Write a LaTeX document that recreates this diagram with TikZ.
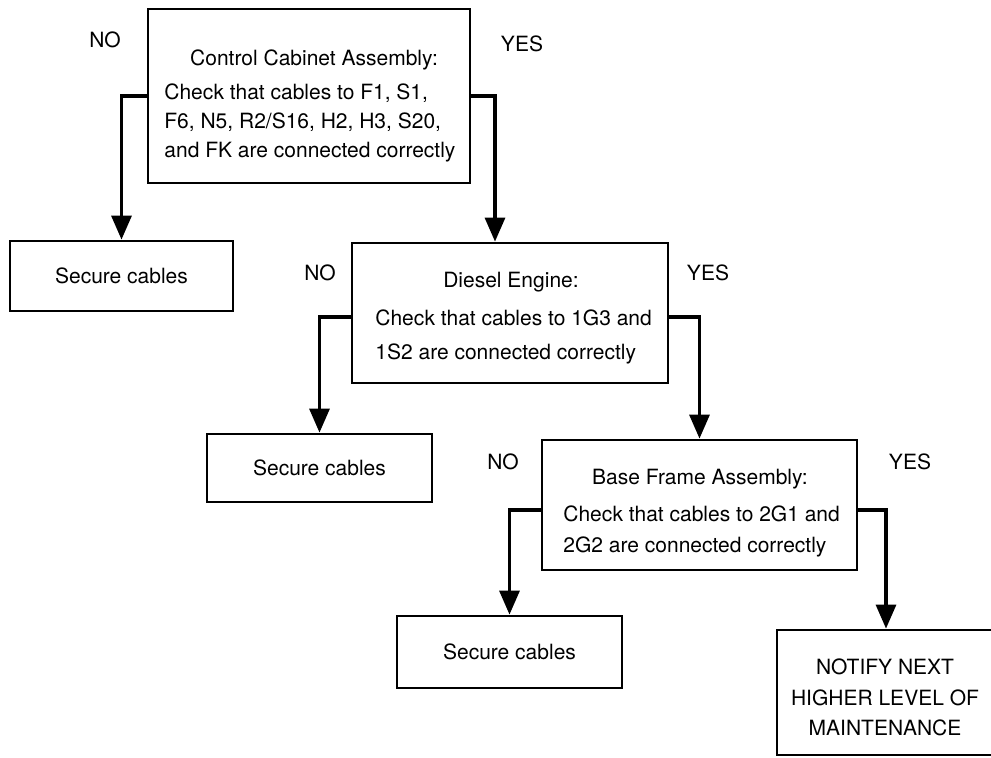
\documentclass[tikz,border=0pt]{standalone}
\usepackage{fontspec}
\setmainfont{TeX Gyre Heros}
\usetikzlibrary{arrows.meta}

\begin{document}
\begin{tikzpicture}[x=0.5pt,y=-0.5pt,font=\fontsize{10.5}{13.5}\selectfont,
  >={Triangle[length=12pt,width=10pt]},
  box/.style={draw,line width=1.4pt,inner sep=0pt},
  head/.style={inner sep=0pt,anchor=base},
  body/.style={inner sep=0pt,anchor=base west,align=left},
  answer/.style={inner sep=0pt},
  flow/.style={line width=1.6pt,->}]
  \useasboundingbox (0,0) rectangle (991,758);
  % check boxes (base anchor of a multi-line node = last line)
  \node[box,minimum width=161pt,minimum height=87pt] (cab) at (309,96) {};
  \node[box,minimum width=158pt,minimum height=70pt] (eng) at (510,313) {};
  \node[box,minimum width=157.5pt,minimum height=65pt] (frame) at (699.5,505) {};
  \node[head] (cabhead) at (314,65.5) {Control Cabinet Assembly:};
  \node[body,font=\fontsize{10.5}{14.5}\selectfont] (cabbody) at (164,157.5)
    {Check that cables to F1, S1,\\F6, N5, R2/S16, H2, H3, S20,\\and FK are connected correctly};
  \node[head] (enghead) at (511,287.5) {Diesel Engine:};
  \node[body,font=\fontsize{10.5}{17}\selectfont] (engbody) at (375,359.5)
    {Check that cables to 1G3 and\\1S2 are connected correctly};
  \node[head] (framehead) at (700,484.5) {Base Frame Assembly:};
  \node[body,font=\fontsize{10.5}{15.5}\selectfont] (framebody) at (563,552.5)
    {Check that cables to 2G1 and\\2G2 are connected correctly};
  % outcomes
  \node[box,minimum width=111.5pt,minimum height=35pt] (sec1) at (121.5,276) {Secure cables};
  \node[box,minimum width=112.5pt,minimum height=34pt] (sec2) at (319.5,468) {Secure cables};
  \node[box,minimum width=112.5pt,minimum height=36pt] (sec3) at (509.5,652) {Secure cables};
  \node[box,minimum width=109pt,minimum height=62.5pt] (notify) at (886,692.5) {};
  \node[inner sep=0pt,align=center,anchor=base,font=\fontsize{10.5}{15.25}\selectfont] (notifytxt) at (885,735.5)
    {NOTIFY NEXT\\HIGHER LEVEL OF\\MAINTENANCE};
  % answers
  \node[answer] (no1) at (105,40) {NO};
  \node[answer] (yes1) at (522,44) {YES};
  \node[answer] (no2) at (320,273) {NO};
  \node[answer] (yes2) at (708,273) {YES};
  \node[answer] (no3) at (503,462) {NO};
  \node[answer] (yes3) at (910,462) {YES};
  % branches
  \draw[flow] (cab.west) -| (sec1.north);
  \draw[flow] (cab.east) -| ([xshift=-7.5pt]eng.north);
  \draw[flow] ([yshift=-2pt]eng.west) -| (sec2.north);
  \draw[flow] ([yshift=-2pt]eng.east) -| (frame.north);
  \draw[flow] ([yshift=-2.5pt]frame.west) -| (sec3.north);
  \draw[flow] ([yshift=-2.5pt]frame.east) -| (notify.north);
\end{tikzpicture}
\end{document}
